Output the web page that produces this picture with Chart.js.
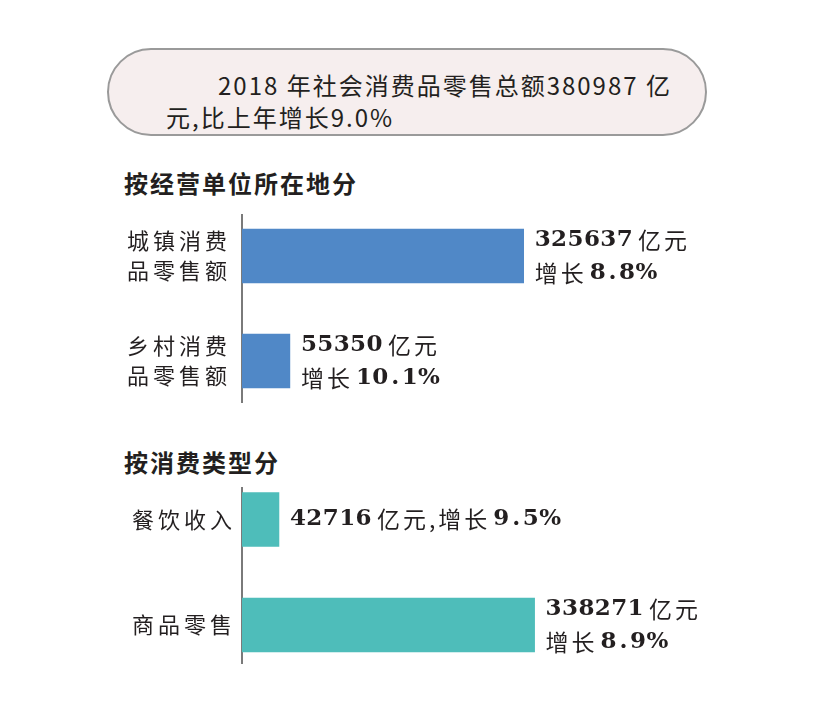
<!DOCTYPE html>
<html>
<head>
<meta charset="utf-8">
<script src="https://cdn.jsdelivr.net/npm/chart.js@4"></script>
<style>
body { margin: 0; background: #fff; width: 817px; height: 712px; position: relative; overflow: hidden;
  font-family: "Noto Sans CJK SC", sans-serif; color: #231f20 }
#box { position: absolute; left: 107px; top: 48px; width: 596px; height: 84px; border: 2px solid #9a9a9a;
  border-radius: 44px; background: #f6eeee }
#box p { margin: 0; position: absolute; font-size: 24px; letter-spacing: 2px; line-height: 32px; white-space: nowrap }
.head { position: absolute; left: 124px; font-size: 24px; font-weight: 700; letter-spacing: 2px; line-height: 24px; white-space: nowrap }
.wrap { position: absolute; left: 0; width: 817px }
</style>
</head>
<body>
<div id="box">
  <p style="left:109px;top:19px">2018 年社会消费品零售总额380987 亿</p>
  <p style="left:57px;top:51px">元,比上年增长9.0%</p>
</div>
<div class="head" style="top:171px">按经营单位所在地分</div>
<div class="wrap" style="top:200px;height:215px"><canvas id="c1"></canvas></div>
<div class="head" style="top:450px">按消费类型分</div>
<div class="wrap" style="top:470px;height:210px"><canvas id="c2"></canvas></div>
<script>
"use strict"

// by location
const cats1 = [["城镇消费", "品零售额"], ["乡村消费", "品零售额"]]
const values1 = [325637, 55350]
const growth1 = [8.8, 10.1]
const layout1 = ["two", "two"]

// by type
const cats2 = ["餐饮收入", "商品零售"]
const values2 = [42716, 338271]
const growth2 = [9.5, 8.9]
const layout2 = ["one", "two"]

const ink = "#231f20"

// numbers in a bold serif, chinese in sans, like the print
function drawRuns(ctx, text, x, y) {
  text.split(/([0-9.%]+)/).filter(s => s).forEach((p, k) => {
    if (/^[0-9.%]+$/.test(p)) {
      if (k > 0) x += 3
      ctx.font = "bold 23px 'DejaVu Serif'"
      ctx.letterSpacing = "0px"
      for (const ch of p) {
        ctx.fillText(ch, x + (ch == "." ? 2.5 : 0), y)
        x += ctx.measureText(ch).width + (ch == "." ? 5 : 0.4)
      }
      x += 5
    } else {
      ctx.font = "23px 'Noto Sans CJK SC'"
      ctx.letterSpacing = "3px"
      ctx.fillText(p, x, y)
      x += ctx.measureText(p).width
    }
  })
}

function makeChart(id, cats, values, growth, layout, color, range, pad, tickPad) {
  const spacing = {
    id: "spacing",
    beforeDraw: chart => { chart.ctx.letterSpacing = "4px" },
    afterDraw: chart => { chart.ctx.letterSpacing = "0px" }
  }
  const valueLabels = {
    id: "valueLabels",
    afterDatasetsDraw: chart => {
      const ctx = chart.ctx
      ctx.save()
      ctx.fillStyle = ink
      ctx.textBaseline = "middle"
      ctx.textAlign = "left"
      chart.getDatasetMeta(0).data.forEach((bar, i) => {
        const v = values[i], g = growth[i].toFixed(1)
        const x = bar.x + 11
        if (layout[i] == "one")
          drawRuns(ctx, v + "亿元,增长" + g + "%", x, bar.y)
        else {
          drawRuns(ctx, v + "亿元", x, bar.y - 16)
          drawRuns(ctx, "增长" + g + "%", x, bar.y + 17)
        }
      })
      ctx.restore()
    }
  }
  return new Chart(id, {
    type: "bar",
    data: {
      datasets: [{
        data: values.map((v, i) => ({x: v, y: i})),
        backgroundColor: color,
        borderWidth: 0,
        barThickness: 54
      }]
    },
    options: {
      indexAxis: "y",
      responsive: true,
      maintainAspectRatio: false,
      animation: false,
      layout: {padding: pad},
      plugins: {legend: {display: false}, tooltip: {enabled: false}},
      scales: {
        x: {type: "linear", min: 0, max: 400000, display: false},
        y: {
          type: "linear", reverse: true, min: range[0], max: range[1], offset: false,
          afterBuildTicks: ax => { ax.ticks = cats.map((c, i) => ({value: i})) },
          afterFit: ax => {
            ax.width = 242
            ax.paddingTop = 0
            ax.paddingBottom = 0
          },
          ticks: {
            callback: v => cats[v], autoSkip: false, maxRotation: 0, padding: tickPad, color: ink,
            font: {family: "'Noto Sans CJK SC'", size: 22, lineHeight: 1.36}
          },
          grid: {display: false, drawTicks: false, offset: false},
          border: {display: true, color: "#7a7a7a", width: 2}
        }
      }
    },
    plugins: [spacing, valueLabels]
  })
}

makeChart("c1", cats1, values1, growth1, layout1, "#5088c7", [-0.390, 1.390],
  {left: 0, right: 229, top: 15, bottom: 13}, 11)
makeChart("c2", cats2, values2, growth2, layout2, "#4ebdba", [-0.2986, 1.360],
  {left: 0, right: 229, top: 18, bottom: 17}, 6)
</script>
</body>
</html>
